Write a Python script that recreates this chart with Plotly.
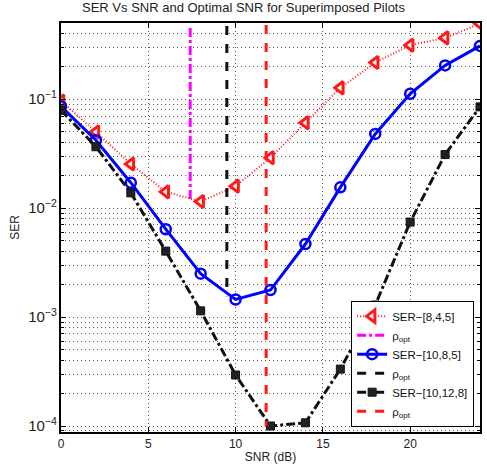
import plotly.graph_objects as go

snr = [0, 2, 4, 6, 8, 10, 12, 14, 16, 18, 20, 22, 24]
ser_845 = [0.096, 0.050, 0.0254, 0.0141, 0.0115, 0.0159, 0.029, 0.0607, 0.127, 0.217, 0.313, 0.365, 0.494]
ser_1085 = [0.086, 0.042, 0.0171, 0.0064, 0.00250, 0.00145, 0.00177, 0.00468, 0.0155, 0.048, 0.112, 0.204, 0.308]
ser_10128 = [0.079, 0.0366, 0.0138, 0.00403, 0.00114, 0.000294, 0.0001, 0.000107, 0.000333, 0.00129, 0.00745, 0.031, 0.085]

opt_845_x = [7.4, 7.4]
opt_845_y = [0.45, 0.0114]
opt_1085_x = [9.5, 9.5]
opt_1085_y = [0.47, 0.00155]
opt_10128_x = [11.75, 11.75]
opt_10128_y = [0.48, 0.0001]

x_ticks = [0, 5, 10, 15, 20]

fig = go.Figure()
fig.add_trace(go.Scatter(x=snr, y=ser_845, name="SER\u2212[8,4,5]", mode="lines+markers",
                         line=dict(color="#ff1a1a", width=2, dash="1px,2px"),
                         marker=dict(symbol="triangle-left", size=11, color="white",
                                     line=dict(color="#ff1a1a", width=3))))
fig.add_trace(go.Scatter(x=opt_845_x, y=opt_845_y, name="\u03c1<sub>opt</sub>", mode="lines",
                         line=dict(color="#ff00ff", width=3, dash="dashdot")))
fig.add_trace(go.Scatter(x=snr, y=ser_1085, name="SER\u2212[10,8,5]", mode="lines+markers",
                         line=dict(color="#0000ff", width=3),
                         marker=dict(symbol="circle-open", size=10, color="#0000ff",
                                     line=dict(color="#0000ff", width=2.5))))
fig.add_trace(go.Scatter(x=opt_1085_x, y=opt_1085_y, name="\u03c1<sub>opt</sub>", mode="lines",
                         line=dict(color="#111111", width=3, dash="dash")))
fig.add_trace(go.Scatter(x=snr, y=ser_10128, name="SER\u2212[10,12,8]", mode="lines+markers",
                         line=dict(color="#111111", width=3, dash="dashdot"),
                         marker=dict(symbol="square", size=8, color="#222222",
                                     line=dict(color="#111111", width=1))))
fig.add_trace(go.Scatter(x=opt_10128_x, y=opt_10128_y, name="\u03c1<sub>opt</sub>", mode="lines",
                         line=dict(color="#ff1a1a", width=3, dash="dash")))

fig.update_layout(
    width=487, height=471,
    margin=dict(l=61, r=5, t=23, b=39),
    paper_bgcolor="white", plot_bgcolor="white",
    font=dict(family="Liberation Sans, Arial, sans-serif", size=12, color="#222222"),
    title=dict(text="SER Vs SNR and Optimal SNR for Superimposed Pilots", x=0.5, xanchor="center",
               yref="container", y=0.984, yanchor="middle", font=dict(size=13, color="#222222")),
    showlegend=True,
    legend=dict(x=0.986, xanchor="right", y=0.013, yanchor="bottom",
                bgcolor="white", bordercolor="black", borderwidth=1,
                font=dict(size=11.5, color="#111111"), tracegroupgap=0, itemwidth=30),
)
fig.update_xaxes(range=[0, 24], tickvals=x_ticks, showgrid=True,
                 gridcolor="#555555", griddash="1px,3px", gridwidth=1,
                 showline=True, linecolor="black", linewidth=1.5, mirror="ticks",
                 ticks="inside", ticklen=5, tickcolor="black",
                 zeroline=False, title=dict(text="SNR (dB)", standoff=2, font=dict(size=12)))
fig.update_yaxes(type="log", range=[-4.055, -0.301], dtick=1, exponentformat="power",
                 showexponent="all",
                 showgrid=True, gridcolor="#555555", griddash="1px,3px", gridwidth=1,
                 minor=dict(showgrid=True, gridcolor="#555555", griddash="1px,3px", gridwidth=1,
                            ticks="inside", ticklen=3, tickcolor="black"),
                 showline=True, linecolor="black", linewidth=1.5, mirror="ticks",
                 ticks="inside", ticklen=5, tickcolor="black",
                 zeroline=False, title=dict(text="SER", standoff=6, font=dict(size=12)))

fig.write_html("out.html", config={"displayModeBar": False},
               post_script="document.body.style.margin='0';")
